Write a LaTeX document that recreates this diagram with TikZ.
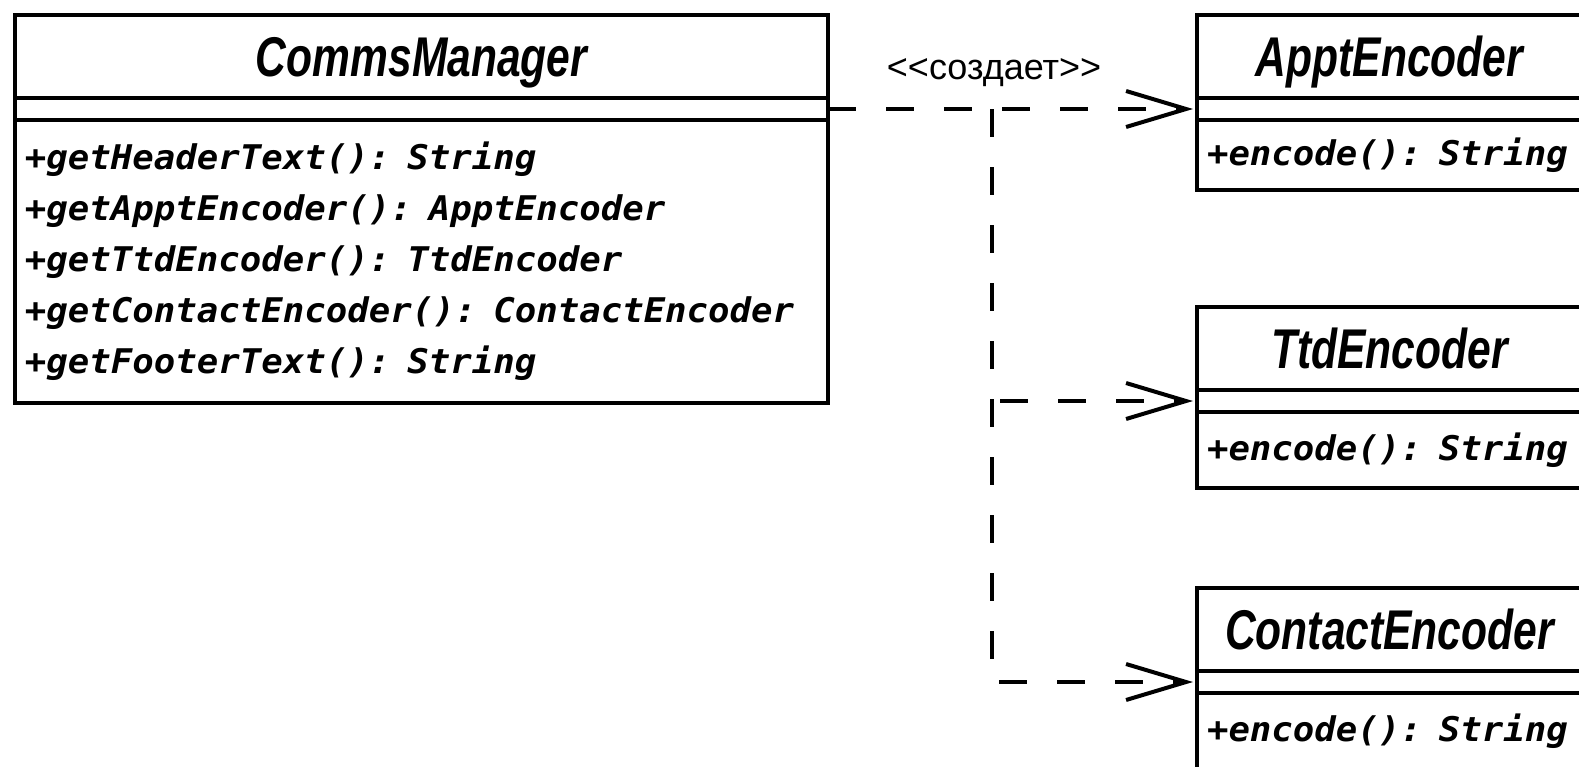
\documentclass[tikz,border=0pt]{standalone}
\usepackage{fontspec}
\newfontfamily\titlefont[FakeStretch=0.76]{Liberation Sans}
\newfontfamily\opsfont[FakeStretch=1.05]{DejaVu Sans Mono}
\newfontfamily\stereofont{Liberation Sans}
\usetikzlibrary{positioning, arrows.meta}

\begin{document}
\begin{tikzpicture}[x=0.5pt,y=-0.5pt]
	\tikzstyle{compart}=[draw=black,line width=2pt,rectangle,inner sep=0pt,outer sep=0pt,anchor=north west]
	\tikzstyle{classname}=[compart,minimum height=41.5pt,font=\titlefont\bfseries\itshape\fontsize{28}{30}\selectfont,text height=20pt,text depth=0pt]
	\tikzstyle{attrs}=[compart,minimum height=11pt]
	\tikzstyle{ops}=[compart,inner xsep=5pt,align=left,font=\opsfont\bfseries\itshape\fontsize{17}{25.5}\selectfont]
	\tikzstyle{dep}=[line width=2pt,dash pattern=on 14pt off 15pt,-{Straight Barb[length=30pt,width=18pt]},shorten >=2pt]
	\useasboundingbox (0,0) rectangle (1579,766);
	\clip (0,0) rectangle (1579,766);
	% the manager
	\node[classname,minimum width=406.5pt] (mgr) at (15,15) {CommsManager};
	\node[attrs,minimum width=406.5pt,below=0pt of mgr] (mgr-attr) {};
	\node[ops,text width=396.5pt,minimum height=141.5pt,below=0pt of mgr-attr] (mgr-ops)
		{+getHeaderText(): String\\+getApptEncoder(): ApptEncoder\\+getTtdEncoder(): TtdEncoder\\+getContactEncoder(): ContactEncoder\\+getFooterText(): String};
	% the encoders
	\node[classname,minimum width=192.5pt] (appt) at (1197,15) {ApptEncoder};
	\node[attrs,minimum width=192.5pt,below=0pt of appt] (appt-attr) {};
	\node[ops,text width=182.5pt,minimum height=35pt,below=0pt of appt-attr] (appt-ops) {+encode(): String};
	\node[classname,minimum width=192.5pt] (ttd) at (1197,307) {TtdEncoder};
	\node[attrs,minimum width=192.5pt,below=0pt of ttd] (ttd-attr) {};
	\node[ops,text width=182.5pt,minimum height=38pt,below=0pt of ttd-attr] (ttd-ops) {+encode(): String};
	\node[classname,minimum width=192.5pt] (contact) at (1197,588) {ContactEncoder};
	\node[attrs,minimum width=192.5pt,below=0pt of contact] (contact-attr) {};
	\node[ops,text width=182.5pt,minimum height=38pt,below=0pt of contact-attr] (contact-ops) {+encode(): String};
	% creates
	\coordinate (fork) at (992,109);
	\path[dep]
		(mgr-attr.east) edge node[above=10pt,pos=0.45,inner sep=0pt,font=\stereofont\fontsize{18}{20}\selectfont] {<\kern0pt<создает>\kern0pt>} (appt-attr.west);
	\draw[dep] (fork) |- (contact-attr.west);
	\draw[dep,dash phase=25pt] (fork |- ttd-attr.west) -- (ttd-attr.west);
\end{tikzpicture}
\end{document}
